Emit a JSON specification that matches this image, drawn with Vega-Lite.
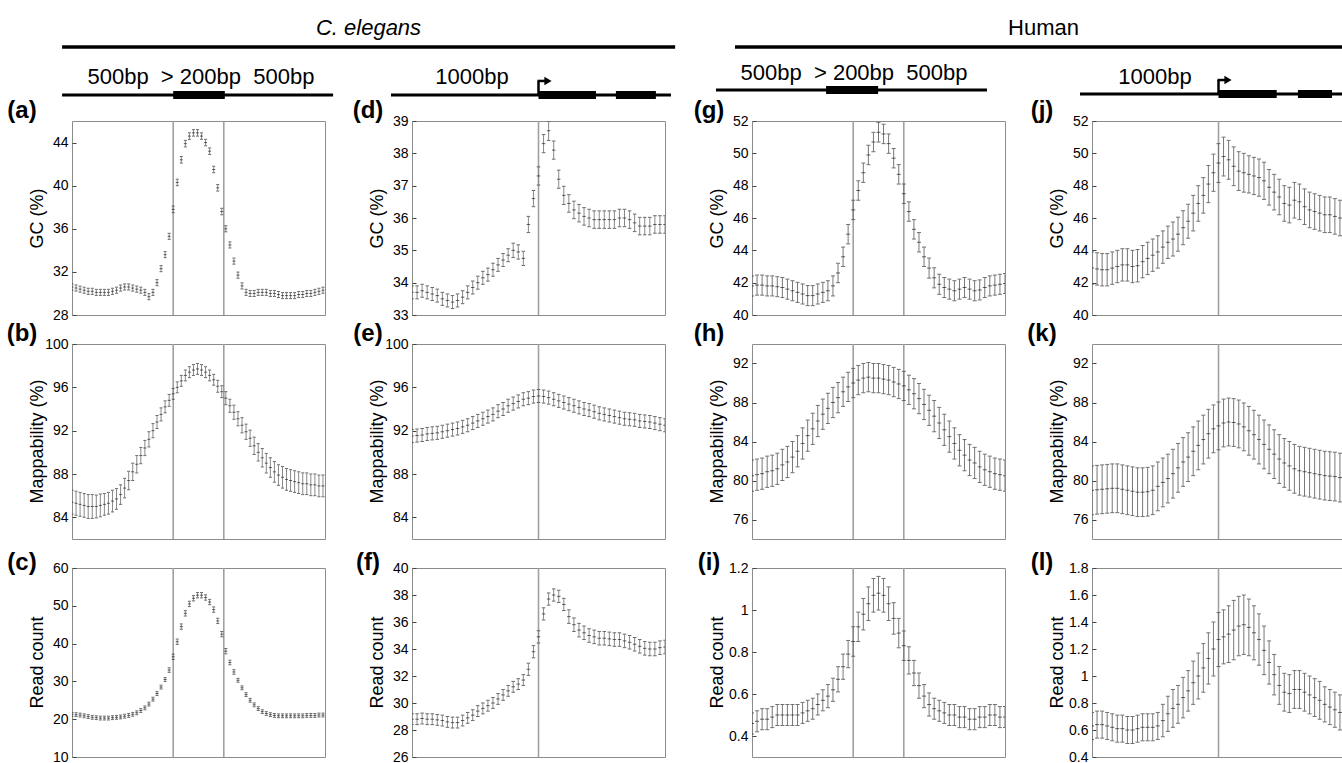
{
"$schema":"https://vega.github.io/schema/vega-lite/v6.json",
"background":"white",
"padding":{"left":6,"top":0,"right":0,"bottom":0},
"config":{
 "font":"Liberation Sans",
 "view":{"stroke":"#8c8c8c","strokeWidth":1},
 "axis":{"domain":false,"ticks":true,"tickSize":-4,"tickColor":"#444","grid":false,"labelFontSize":14,"labelColor":"#000","labelPadding":8,"titleFontSize":18,"titleFontWeight":"normal","titleColor":"#000","titleX":-35,"titleBaseline":"middle","titleAlign":"center","titleAngle":-90}
},
"datasets":{
"a":[{"x":-500,"m":30.6,"e":0.28},{"x":-480,"m":30.5,"e":0.28},{"x":-460,"m":30.4,"e":0.28},{"x":-440,"m":30.3,"e":0.28},{"x":-420,"m":30.2,"e":0.28},{"x":-400,"m":30.2,"e":0.28},{"x":-380,"m":30.1,"e":0.28},{"x":-360,"m":30.1,"e":0.28},{"x":-340,"m":30.1,"e":0.28},{"x":-320,"m":30.1,"e":0.28},{"x":-300,"m":30.2,"e":0.28},{"x":-280,"m":30.3,"e":0.28},{"x":-260,"m":30.5,"e":0.28},{"x":-240,"m":30.6,"e":0.28},{"x":-220,"m":30.6,"e":0.28},{"x":-200,"m":30.5,"e":0.28},{"x":-180,"m":30.4,"e":0.28},{"x":-160,"m":30.3,"e":0.28},{"x":-140,"m":30.1,"e":0.28},{"x":-120,"m":29.7,"e":0.28},{"x":-100,"m":30.1,"e":0.28},{"x":-80,"m":31.0,"e":0.28},{"x":-60,"m":32.3,"e":0.28},{"x":-40,"m":33.6,"e":0.28},{"x":-20,"m":35.3,"e":0.28},{"x":0,"m":37.8,"e":0.3},{"x":20,"m":40.3,"e":0.3},{"x":40,"m":42.4,"e":0.3},{"x":60,"m":43.9,"e":0.3},{"x":80,"m":44.6,"e":0.3},{"x":100,"m":44.9,"e":0.3},{"x":120,"m":44.9,"e":0.3},{"x":140,"m":44.6,"e":0.3},{"x":160,"m":44.0,"e":0.3},{"x":180,"m":43.2,"e":0.3},{"x":200,"m":41.5,"e":0.3},{"x":220,"m":39.8,"e":0.3},{"x":240,"m":37.6,"e":0.3},{"x":260,"m":36.0,"e":0.28},{"x":280,"m":34.5,"e":0.28},{"x":300,"m":33.0,"e":0.28},{"x":320,"m":31.7,"e":0.28},{"x":340,"m":30.7,"e":0.28},{"x":360,"m":30.1,"e":0.28},{"x":380,"m":30.0,"e":0.28},{"x":400,"m":30.0,"e":0.28},{"x":420,"m":30.1,"e":0.28},{"x":440,"m":30.1,"e":0.28},{"x":460,"m":30.1,"e":0.28},{"x":480,"m":30.0,"e":0.28},{"x":500,"m":30.0,"e":0.28},{"x":520,"m":29.9,"e":0.28},{"x":540,"m":29.8,"e":0.28},{"x":560,"m":29.8,"e":0.28},{"x":580,"m":29.8,"e":0.28},{"x":600,"m":29.8,"e":0.28},{"x":620,"m":29.9,"e":0.28},{"x":640,"m":29.9,"e":0.28},{"x":660,"m":30.0,"e":0.28},{"x":680,"m":30.0,"e":0.28},{"x":700,"m":30.1,"e":0.28},{"x":720,"m":30.2,"e":0.28},{"x":740,"m":30.3,"e":0.28}],
"b":[{"x":-500,"m":85.4,"e":1.1},{"x":-480,"m":85.3,"e":1.1},{"x":-460,"m":85.2,"e":1.1},{"x":-440,"m":85.1,"e":1.1},{"x":-420,"m":85.0,"e":1.1},{"x":-400,"m":85.0,"e":1.1},{"x":-380,"m":85.0,"e":1.05},{"x":-360,"m":85.1,"e":1.05},{"x":-340,"m":85.2,"e":1.0},{"x":-320,"m":85.3,"e":1.0},{"x":-300,"m":85.5,"e":1.0},{"x":-280,"m":85.7,"e":0.95},{"x":-260,"m":86.1,"e":0.9},{"x":-240,"m":86.7,"e":0.9},{"x":-220,"m":87.4,"e":0.85},{"x":-200,"m":88.2,"e":0.8},{"x":-180,"m":88.9,"e":0.8},{"x":-160,"m":89.7,"e":0.75},{"x":-140,"m":90.4,"e":0.7},{"x":-120,"m":91.2,"e":0.7},{"x":-100,"m":92.0,"e":0.65},{"x":-80,"m":92.8,"e":0.6},{"x":-60,"m":93.5,"e":0.6},{"x":-40,"m":94.2,"e":0.55},{"x":-20,"m":94.8,"e":0.55},{"x":0,"m":95.4,"e":0.5},{"x":20,"m":96.0,"e":0.5},{"x":40,"m":96.6,"e":0.5},{"x":60,"m":97.1,"e":0.5},{"x":80,"m":97.4,"e":0.5},{"x":100,"m":97.6,"e":0.5},{"x":120,"m":97.7,"e":0.5},{"x":140,"m":97.6,"e":0.5},{"x":160,"m":97.4,"e":0.5},{"x":180,"m":97.1,"e":0.5},{"x":200,"m":96.7,"e":0.5},{"x":220,"m":96.1,"e":0.55},{"x":240,"m":95.6,"e":0.55},{"x":260,"m":95.0,"e":0.6},{"x":280,"m":94.3,"e":0.6},{"x":300,"m":93.7,"e":0.65},{"x":320,"m":93.1,"e":0.65},{"x":340,"m":92.5,"e":0.7},{"x":360,"m":91.9,"e":0.7},{"x":380,"m":91.3,"e":0.75},{"x":400,"m":90.6,"e":0.8},{"x":420,"m":90.0,"e":0.8},{"x":440,"m":89.5,"e":0.85},{"x":460,"m":89.0,"e":0.9},{"x":480,"m":88.6,"e":0.9},{"x":500,"m":88.2,"e":0.95},{"x":520,"m":87.9,"e":0.95},{"x":540,"m":87.7,"e":1.0},{"x":560,"m":87.5,"e":1.0},{"x":580,"m":87.4,"e":1.0},{"x":600,"m":87.3,"e":1.0},{"x":620,"m":87.2,"e":1.0},{"x":640,"m":87.1,"e":1.0},{"x":660,"m":87.1,"e":1.0},{"x":680,"m":87.0,"e":1.0},{"x":700,"m":87.0,"e":1.0},{"x":720,"m":86.9,"e":1.0},{"x":740,"m":86.9,"e":1.0}],
"c":[{"x":-500,"m":21.3,"e":0.5},{"x":-480,"m":21.2,"e":0.5},{"x":-460,"m":21.1,"e":0.5},{"x":-440,"m":20.9,"e":0.5},{"x":-420,"m":20.7,"e":0.5},{"x":-400,"m":20.5,"e":0.5},{"x":-380,"m":20.4,"e":0.5},{"x":-360,"m":20.3,"e":0.5},{"x":-340,"m":20.3,"e":0.5},{"x":-320,"m":20.3,"e":0.5},{"x":-300,"m":20.4,"e":0.5},{"x":-280,"m":20.5,"e":0.5},{"x":-260,"m":20.6,"e":0.5},{"x":-240,"m":20.8,"e":0.5},{"x":-220,"m":21.0,"e":0.5},{"x":-200,"m":21.3,"e":0.5},{"x":-180,"m":21.7,"e":0.5},{"x":-160,"m":22.3,"e":0.5},{"x":-140,"m":23.0,"e":0.5},{"x":-120,"m":24.0,"e":0.5},{"x":-100,"m":25.3,"e":0.5},{"x":-80,"m":26.8,"e":0.5},{"x":-60,"m":28.5,"e":0.5},{"x":-40,"m":30.5,"e":0.5},{"x":-20,"m":33.0,"e":0.6},{"x":0,"m":36.5,"e":0.7},{"x":20,"m":40.5,"e":0.7},{"x":40,"m":44.5,"e":0.7},{"x":60,"m":48.0,"e":0.7},{"x":80,"m":50.5,"e":0.7},{"x":100,"m":52.0,"e":0.7},{"x":120,"m":52.8,"e":0.7},{"x":140,"m":52.8,"e":0.7},{"x":160,"m":52.2,"e":0.7},{"x":180,"m":51.0,"e":0.7},{"x":200,"m":49.0,"e":0.7},{"x":220,"m":46.0,"e":0.7},{"x":240,"m":42.5,"e":0.7},{"x":260,"m":38.0,"e":0.7},{"x":280,"m":35.0,"e":0.6},{"x":300,"m":32.5,"e":0.6},{"x":320,"m":30.3,"e":0.5},{"x":340,"m":28.3,"e":0.5},{"x":360,"m":26.5,"e":0.5},{"x":380,"m":25.0,"e":0.5},{"x":400,"m":23.8,"e":0.5},{"x":420,"m":22.8,"e":0.5},{"x":440,"m":22.0,"e":0.5},{"x":460,"m":21.5,"e":0.5},{"x":480,"m":21.2,"e":0.5},{"x":500,"m":21.0,"e":0.5},{"x":520,"m":20.9,"e":0.5},{"x":540,"m":20.9,"e":0.5},{"x":560,"m":20.9,"e":0.5},{"x":580,"m":20.9,"e":0.5},{"x":600,"m":20.9,"e":0.5},{"x":620,"m":20.9,"e":0.5},{"x":640,"m":20.9,"e":0.5},{"x":660,"m":21.0,"e":0.5},{"x":680,"m":21.0,"e":0.5},{"x":700,"m":21.0,"e":0.5},{"x":720,"m":21.1,"e":0.5},{"x":740,"m":21.1,"e":0.5}],
"d":[{"x":-1000,"m":33.7,"e":0.2},{"x":-960,"m":33.7,"e":0.2},{"x":-920,"m":33.75,"e":0.2},{"x":-880,"m":33.7,"e":0.2},{"x":-840,"m":33.65,"e":0.2},{"x":-800,"m":33.6,"e":0.2},{"x":-760,"m":33.5,"e":0.2},{"x":-720,"m":33.45,"e":0.2},{"x":-680,"m":33.4,"e":0.2},{"x":-640,"m":33.45,"e":0.2},{"x":-600,"m":33.55,"e":0.2},{"x":-560,"m":33.7,"e":0.2},{"x":-520,"m":33.85,"e":0.2},{"x":-480,"m":34.0,"e":0.2},{"x":-440,"m":34.15,"e":0.2},{"x":-400,"m":34.25,"e":0.2},{"x":-360,"m":34.4,"e":0.2},{"x":-320,"m":34.55,"e":0.2},{"x":-280,"m":34.7,"e":0.2},{"x":-240,"m":34.85,"e":0.2},{"x":-200,"m":35.0,"e":0.22},{"x":-160,"m":34.95,"e":0.22},{"x":-120,"m":34.75,"e":0.22},{"x":-80,"m":35.8,"e":0.25},{"x":-40,"m":36.6,"e":0.25},{"x":0,"m":37.3,"e":0.28},{"x":40,"m":38.3,"e":0.28},{"x":80,"m":38.7,"e":0.3},{"x":120,"m":38.1,"e":0.28},{"x":160,"m":37.2,"e":0.28},{"x":200,"m":36.7,"e":0.28},{"x":240,"m":36.45,"e":0.27},{"x":280,"m":36.25,"e":0.27},{"x":320,"m":36.15,"e":0.27},{"x":360,"m":36.05,"e":0.27},{"x":400,"m":36.0,"e":0.27},{"x":440,"m":35.95,"e":0.27},{"x":480,"m":35.95,"e":0.27},{"x":520,"m":35.95,"e":0.27},{"x":560,"m":35.95,"e":0.27},{"x":600,"m":35.95,"e":0.27},{"x":640,"m":36.0,"e":0.27},{"x":680,"m":36.0,"e":0.27},{"x":720,"m":35.95,"e":0.27},{"x":760,"m":35.85,"e":0.27},{"x":800,"m":35.75,"e":0.27},{"x":840,"m":35.75,"e":0.27},{"x":880,"m":35.75,"e":0.27},{"x":920,"m":35.8,"e":0.27},{"x":960,"m":35.8,"e":0.27},{"x":1000,"m":35.8,"e":0.27}],
"e":[{"x":-1000,"m":91.5,"e":0.6},{"x":-960,"m":91.55,"e":0.6},{"x":-920,"m":91.6,"e":0.6},{"x":-880,"m":91.7,"e":0.6},{"x":-840,"m":91.75,"e":0.6},{"x":-800,"m":91.8,"e":0.6},{"x":-760,"m":91.9,"e":0.6},{"x":-720,"m":92.0,"e":0.6},{"x":-680,"m":92.1,"e":0.6},{"x":-640,"m":92.2,"e":0.6},{"x":-600,"m":92.35,"e":0.6},{"x":-560,"m":92.5,"e":0.6},{"x":-520,"m":92.7,"e":0.6},{"x":-480,"m":92.9,"e":0.6},{"x":-440,"m":93.1,"e":0.6},{"x":-400,"m":93.3,"e":0.6},{"x":-360,"m":93.5,"e":0.6},{"x":-320,"m":93.8,"e":0.6},{"x":-280,"m":94.0,"e":0.6},{"x":-240,"m":94.3,"e":0.6},{"x":-200,"m":94.5,"e":0.6},{"x":-160,"m":94.7,"e":0.6},{"x":-120,"m":94.9,"e":0.6},{"x":-80,"m":95.0,"e":0.6},{"x":-40,"m":95.15,"e":0.6},{"x":0,"m":95.2,"e":0.6},{"x":40,"m":95.15,"e":0.6},{"x":80,"m":95.05,"e":0.6},{"x":120,"m":94.9,"e":0.6},{"x":160,"m":94.75,"e":0.6},{"x":200,"m":94.6,"e":0.6},{"x":240,"m":94.45,"e":0.6},{"x":280,"m":94.3,"e":0.6},{"x":320,"m":94.15,"e":0.6},{"x":360,"m":94.0,"e":0.6},{"x":400,"m":93.9,"e":0.6},{"x":440,"m":93.75,"e":0.6},{"x":480,"m":93.6,"e":0.6},{"x":520,"m":93.5,"e":0.6},{"x":560,"m":93.4,"e":0.6},{"x":600,"m":93.3,"e":0.6},{"x":640,"m":93.2,"e":0.6},{"x":680,"m":93.1,"e":0.6},{"x":720,"m":93.05,"e":0.6},{"x":760,"m":93.0,"e":0.6},{"x":800,"m":92.9,"e":0.6},{"x":840,"m":92.85,"e":0.6},{"x":880,"m":92.8,"e":0.6},{"x":920,"m":92.7,"e":0.6},{"x":960,"m":92.6,"e":0.6},{"x":1000,"m":92.5,"e":0.6}],
"f":[{"x":-1000,"m":28.8,"e":0.4},{"x":-960,"m":28.8,"e":0.4},{"x":-920,"m":28.85,"e":0.4},{"x":-880,"m":28.8,"e":0.4},{"x":-840,"m":28.8,"e":0.4},{"x":-800,"m":28.75,"e":0.4},{"x":-760,"m":28.7,"e":0.4},{"x":-720,"m":28.6,"e":0.4},{"x":-680,"m":28.55,"e":0.4},{"x":-640,"m":28.55,"e":0.4},{"x":-600,"m":28.7,"e":0.4},{"x":-560,"m":28.9,"e":0.4},{"x":-520,"m":29.1,"e":0.4},{"x":-480,"m":29.4,"e":0.4},{"x":-440,"m":29.6,"e":0.4},{"x":-400,"m":29.8,"e":0.4},{"x":-360,"m":30.0,"e":0.4},{"x":-320,"m":30.3,"e":0.4},{"x":-280,"m":30.6,"e":0.4},{"x":-240,"m":30.9,"e":0.4},{"x":-200,"m":31.2,"e":0.4},{"x":-160,"m":31.4,"e":0.4},{"x":-120,"m":31.7,"e":0.4},{"x":-80,"m":32.5,"e":0.45},{"x":-40,"m":33.8,"e":0.45},{"x":0,"m":34.9,"e":0.45},{"x":40,"m":36.6,"e":0.45},{"x":80,"m":37.7,"e":0.45},{"x":120,"m":38.0,"e":0.45},{"x":160,"m":37.9,"e":0.45},{"x":200,"m":37.3,"e":0.45},{"x":240,"m":36.4,"e":0.5},{"x":280,"m":35.8,"e":0.5},{"x":320,"m":35.4,"e":0.5},{"x":360,"m":35.2,"e":0.5},{"x":400,"m":35.0,"e":0.5},{"x":440,"m":34.9,"e":0.5},{"x":480,"m":34.8,"e":0.5},{"x":520,"m":34.8,"e":0.5},{"x":560,"m":34.75,"e":0.5},{"x":600,"m":34.7,"e":0.5},{"x":640,"m":34.7,"e":0.5},{"x":680,"m":34.6,"e":0.5},{"x":720,"m":34.5,"e":0.5},{"x":760,"m":34.35,"e":0.5},{"x":800,"m":34.2,"e":0.5},{"x":840,"m":34.05,"e":0.5},{"x":880,"m":34.0,"e":0.5},{"x":920,"m":34.0,"e":0.5},{"x":960,"m":34.1,"e":0.5},{"x":1000,"m":34.15,"e":0.5}],
"g":[{"x":-500,"m":41.8,"e":0.62},{"x":-475,"m":41.85,"e":0.62},{"x":-450,"m":41.85,"e":0.62},{"x":-425,"m":41.8,"e":0.62},{"x":-400,"m":41.8,"e":0.62},{"x":-375,"m":41.75,"e":0.62},{"x":-350,"m":41.7,"e":0.62},{"x":-325,"m":41.6,"e":0.62},{"x":-300,"m":41.5,"e":0.62},{"x":-275,"m":41.4,"e":0.62},{"x":-250,"m":41.3,"e":0.62},{"x":-225,"m":41.2,"e":0.62},{"x":-200,"m":41.2,"e":0.62},{"x":-175,"m":41.3,"e":0.62},{"x":-150,"m":41.4,"e":0.62},{"x":-125,"m":41.5,"e":0.62},{"x":-100,"m":41.8,"e":0.62},{"x":-75,"m":42.6,"e":0.6},{"x":-50,"m":43.6,"e":0.6},{"x":-25,"m":45.0,"e":0.6},{"x":0,"m":46.5,"e":0.6},{"x":25,"m":47.7,"e":0.6},{"x":50,"m":48.8,"e":0.6},{"x":75,"m":49.9,"e":0.6},{"x":100,"m":50.7,"e":0.6},{"x":125,"m":51.3,"e":0.6},{"x":150,"m":51.2,"e":0.6},{"x":175,"m":50.6,"e":0.6},{"x":200,"m":49.7,"e":0.6},{"x":225,"m":48.7,"e":0.6},{"x":250,"m":47.5,"e":0.6},{"x":275,"m":46.4,"e":0.6},{"x":300,"m":45.3,"e":0.6},{"x":325,"m":44.5,"e":0.6},{"x":350,"m":43.6,"e":0.6},{"x":375,"m":42.9,"e":0.62},{"x":400,"m":42.3,"e":0.62},{"x":425,"m":41.9,"e":0.62},{"x":450,"m":41.7,"e":0.62},{"x":475,"m":41.6,"e":0.62},{"x":500,"m":41.5,"e":0.62},{"x":525,"m":41.6,"e":0.62},{"x":550,"m":41.7,"e":0.62},{"x":575,"m":41.6,"e":0.62},{"x":600,"m":41.5,"e":0.62},{"x":625,"m":41.55,"e":0.62},{"x":650,"m":41.7,"e":0.62},{"x":675,"m":41.8,"e":0.62},{"x":700,"m":41.85,"e":0.62},{"x":725,"m":41.9,"e":0.62},{"x":750,"m":41.95,"e":0.62}],
"h":[{"x":-500,"m":80.5,"e":1.6},{"x":-475,"m":80.6,"e":1.6},{"x":-450,"m":80.7,"e":1.6},{"x":-425,"m":80.9,"e":1.6},{"x":-400,"m":81.0,"e":1.6},{"x":-375,"m":81.2,"e":1.6},{"x":-350,"m":81.6,"e":1.6},{"x":-325,"m":81.9,"e":1.6},{"x":-300,"m":82.4,"e":1.6},{"x":-275,"m":83.0,"e":1.6},{"x":-250,"m":83.8,"e":1.6},{"x":-225,"m":84.6,"e":1.6},{"x":-200,"m":85.3,"e":1.6},{"x":-175,"m":86.1,"e":1.6},{"x":-150,"m":86.8,"e":1.55},{"x":-125,"m":87.4,"e":1.55},{"x":-100,"m":88.0,"e":1.55},{"x":-75,"m":88.5,"e":1.55},{"x":-50,"m":89.1,"e":1.5},{"x":-25,"m":89.6,"e":1.5},{"x":0,"m":90.0,"e":1.5},{"x":25,"m":90.3,"e":1.5},{"x":50,"m":90.5,"e":1.5},{"x":75,"m":90.6,"e":1.5},{"x":100,"m":90.5,"e":1.5},{"x":125,"m":90.5,"e":1.5},{"x":150,"m":90.4,"e":1.5},{"x":175,"m":90.3,"e":1.5},{"x":200,"m":90.1,"e":1.5},{"x":225,"m":89.9,"e":1.5},{"x":250,"m":89.7,"e":1.5},{"x":275,"m":89.3,"e":1.5},{"x":300,"m":88.9,"e":1.55},{"x":325,"m":88.4,"e":1.55},{"x":350,"m":87.8,"e":1.55},{"x":375,"m":87.2,"e":1.55},{"x":400,"m":86.6,"e":1.6},{"x":425,"m":85.9,"e":1.6},{"x":450,"m":85.2,"e":1.6},{"x":475,"m":84.5,"e":1.6},{"x":500,"m":83.8,"e":1.6},{"x":525,"m":83.1,"e":1.6},{"x":550,"m":82.6,"e":1.6},{"x":575,"m":82.1,"e":1.6},{"x":600,"m":81.8,"e":1.6},{"x":625,"m":81.4,"e":1.6},{"x":650,"m":81.1,"e":1.6},{"x":675,"m":80.9,"e":1.6},{"x":700,"m":80.7,"e":1.6},{"x":725,"m":80.6,"e":1.6},{"x":750,"m":80.5,"e":1.6}],
"i":[{"x":-500,"m":0.46,"e":0.05},{"x":-475,"m":0.47,"e":0.05},{"x":-450,"m":0.48,"e":0.05},{"x":-425,"m":0.48,"e":0.05},{"x":-400,"m":0.49,"e":0.05},{"x":-375,"m":0.5,"e":0.05},{"x":-350,"m":0.5,"e":0.05},{"x":-325,"m":0.5,"e":0.05},{"x":-300,"m":0.5,"e":0.05},{"x":-275,"m":0.5,"e":0.05},{"x":-250,"m":0.51,"e":0.05},{"x":-225,"m":0.52,"e":0.05},{"x":-200,"m":0.53,"e":0.05},{"x":-175,"m":0.55,"e":0.05},{"x":-150,"m":0.57,"e":0.05},{"x":-125,"m":0.59,"e":0.055},{"x":-100,"m":0.62,"e":0.055},{"x":-75,"m":0.67,"e":0.06},{"x":-50,"m":0.73,"e":0.06},{"x":-25,"m":0.79,"e":0.065},{"x":0,"m":0.85,"e":0.07},{"x":25,"m":0.92,"e":0.07},{"x":50,"m":0.98,"e":0.075},{"x":75,"m":1.03,"e":0.08},{"x":100,"m":1.07,"e":0.08},{"x":125,"m":1.08,"e":0.08},{"x":150,"m":1.07,"e":0.08},{"x":175,"m":1.03,"e":0.08},{"x":200,"m":0.96,"e":0.075},{"x":225,"m":0.89,"e":0.07},{"x":250,"m":0.83,"e":0.07},{"x":275,"m":0.76,"e":0.065},{"x":300,"m":0.7,"e":0.06},{"x":325,"m":0.64,"e":0.06},{"x":350,"m":0.59,"e":0.055},{"x":375,"m":0.55,"e":0.055},{"x":400,"m":0.53,"e":0.05},{"x":425,"m":0.52,"e":0.05},{"x":450,"m":0.51,"e":0.05},{"x":475,"m":0.5,"e":0.05},{"x":500,"m":0.5,"e":0.05},{"x":525,"m":0.49,"e":0.05},{"x":550,"m":0.49,"e":0.05},{"x":575,"m":0.48,"e":0.05},{"x":600,"m":0.48,"e":0.05},{"x":625,"m":0.49,"e":0.05},{"x":650,"m":0.49,"e":0.05},{"x":675,"m":0.5,"e":0.05},{"x":700,"m":0.5,"e":0.05},{"x":725,"m":0.49,"e":0.05},{"x":750,"m":0.49,"e":0.05}],
"j":[{"x":-1000,"m":42.9,"e":1.0},{"x":-960,"m":42.85,"e":1.0},{"x":-920,"m":42.8,"e":1.0},{"x":-880,"m":42.8,"e":1.0},{"x":-840,"m":42.9,"e":1.0},{"x":-800,"m":43.0,"e":1.0},{"x":-760,"m":43.1,"e":1.0},{"x":-720,"m":43.1,"e":1.0},{"x":-680,"m":43.0,"e":1.0},{"x":-640,"m":43.05,"e":1.0},{"x":-600,"m":43.3,"e":1.0},{"x":-560,"m":43.5,"e":1.0},{"x":-520,"m":43.7,"e":1.0},{"x":-480,"m":43.9,"e":1.0},{"x":-440,"m":44.2,"e":1.0},{"x":-400,"m":44.5,"e":1.0},{"x":-360,"m":44.7,"e":1.05},{"x":-320,"m":45.0,"e":1.05},{"x":-280,"m":45.4,"e":1.05},{"x":-240,"m":45.8,"e":1.05},{"x":-200,"m":46.3,"e":1.1},{"x":-160,"m":46.9,"e":1.1},{"x":-120,"m":47.4,"e":1.1},{"x":-80,"m":48.1,"e":1.15},{"x":-40,"m":48.8,"e":1.15},{"x":0,"m":49.4,"e":1.2},{"x":40,"m":49.8,"e":1.2},{"x":80,"m":49.6,"e":1.2},{"x":120,"m":49.2,"e":1.2},{"x":160,"m":48.9,"e":1.2},{"x":200,"m":48.8,"e":1.2},{"x":240,"m":48.7,"e":1.15},{"x":280,"m":48.6,"e":1.15},{"x":320,"m":48.5,"e":1.15},{"x":360,"m":48.3,"e":1.15},{"x":400,"m":47.9,"e":1.1},{"x":440,"m":47.6,"e":1.1},{"x":480,"m":47.3,"e":1.1},{"x":520,"m":46.9,"e":1.1},{"x":560,"m":46.8,"e":1.1},{"x":600,"m":47.1,"e":1.1},{"x":640,"m":47.0,"e":1.1},{"x":680,"m":46.7,"e":1.1},{"x":720,"m":46.5,"e":1.1},{"x":760,"m":46.4,"e":1.1},{"x":800,"m":46.3,"e":1.1},{"x":840,"m":46.2,"e":1.1},{"x":880,"m":46.2,"e":1.1},{"x":920,"m":46.1,"e":1.1},{"x":960,"m":46.0,"e":1.1},{"x":1000,"m":45.9,"e":1.1}],
"k":[{"x":-1000,"m":79.0,"e":2.5},{"x":-960,"m":79.05,"e":2.5},{"x":-920,"m":79.1,"e":2.5},{"x":-880,"m":79.15,"e":2.5},{"x":-840,"m":79.2,"e":2.5},{"x":-800,"m":79.2,"e":2.5},{"x":-760,"m":79.1,"e":2.5},{"x":-720,"m":79.0,"e":2.5},{"x":-680,"m":78.9,"e":2.5},{"x":-640,"m":78.8,"e":2.5},{"x":-600,"m":78.8,"e":2.5},{"x":-560,"m":78.85,"e":2.5},{"x":-520,"m":79.0,"e":2.5},{"x":-480,"m":79.4,"e":2.5},{"x":-440,"m":79.8,"e":2.5},{"x":-400,"m":80.2,"e":2.5},{"x":-360,"m":80.7,"e":2.5},{"x":-320,"m":81.3,"e":2.5},{"x":-280,"m":81.9,"e":2.5},{"x":-240,"m":82.4,"e":2.5},{"x":-200,"m":83.0,"e":2.5},{"x":-160,"m":83.6,"e":2.5},{"x":-120,"m":84.2,"e":2.5},{"x":-80,"m":84.8,"e":2.5},{"x":-40,"m":85.3,"e":2.45},{"x":0,"m":85.6,"e":2.45},{"x":40,"m":85.9,"e":2.45},{"x":80,"m":86.0,"e":2.45},{"x":120,"m":85.95,"e":2.45},{"x":160,"m":85.8,"e":2.45},{"x":200,"m":85.5,"e":2.45},{"x":240,"m":85.1,"e":2.5},{"x":280,"m":84.7,"e":2.5},{"x":320,"m":84.2,"e":2.5},{"x":360,"m":83.7,"e":2.5},{"x":400,"m":83.2,"e":2.5},{"x":440,"m":82.7,"e":2.5},{"x":480,"m":82.2,"e":2.5},{"x":520,"m":81.8,"e":2.5},{"x":560,"m":81.5,"e":2.5},{"x":600,"m":81.2,"e":2.5},{"x":640,"m":81.0,"e":2.5},{"x":680,"m":80.9,"e":2.5},{"x":720,"m":80.8,"e":2.5},{"x":760,"m":80.7,"e":2.5},{"x":800,"m":80.6,"e":2.5},{"x":840,"m":80.5,"e":2.5},{"x":880,"m":80.45,"e":2.5},{"x":920,"m":80.4,"e":2.5},{"x":960,"m":80.3,"e":2.5},{"x":1000,"m":80.2,"e":2.5}],
"l":[{"x":-1000,"m":0.63,"e":0.1},{"x":-960,"m":0.64,"e":0.1},{"x":-920,"m":0.64,"e":0.1},{"x":-880,"m":0.63,"e":0.1},{"x":-840,"m":0.62,"e":0.1},{"x":-800,"m":0.61,"e":0.1},{"x":-760,"m":0.61,"e":0.1},{"x":-720,"m":0.6,"e":0.1},{"x":-680,"m":0.6,"e":0.1},{"x":-640,"m":0.61,"e":0.1},{"x":-600,"m":0.62,"e":0.1},{"x":-560,"m":0.62,"e":0.1},{"x":-520,"m":0.62,"e":0.1},{"x":-480,"m":0.63,"e":0.1},{"x":-440,"m":0.67,"e":0.12},{"x":-400,"m":0.72,"e":0.13},{"x":-360,"m":0.76,"e":0.14},{"x":-320,"m":0.79,"e":0.14},{"x":-280,"m":0.84,"e":0.15},{"x":-240,"m":0.89,"e":0.15},{"x":-200,"m":0.95,"e":0.16},{"x":-160,"m":1.0,"e":0.17},{"x":-120,"m":1.06,"e":0.18},{"x":-80,"m":1.13,"e":0.19},{"x":-40,"m":1.2,"e":0.2},{"x":0,"m":1.27,"e":0.2},{"x":40,"m":1.29,"e":0.2},{"x":80,"m":1.31,"e":0.21},{"x":120,"m":1.34,"e":0.22},{"x":160,"m":1.37,"e":0.22},{"x":200,"m":1.38,"e":0.22},{"x":240,"m":1.36,"e":0.21},{"x":280,"m":1.32,"e":0.2},{"x":320,"m":1.27,"e":0.19},{"x":360,"m":1.19,"e":0.18},{"x":400,"m":1.1,"e":0.16},{"x":440,"m":1.01,"e":0.15},{"x":480,"m":0.93,"e":0.14},{"x":520,"m":0.88,"e":0.14},{"x":560,"m":0.87,"e":0.14},{"x":600,"m":0.9,"e":0.14},{"x":640,"m":0.9,"e":0.14},{"x":680,"m":0.88,"e":0.14},{"x":720,"m":0.86,"e":0.14},{"x":760,"m":0.84,"e":0.14},{"x":800,"m":0.82,"e":0.14},{"x":840,"m":0.79,"e":0.13},{"x":880,"m":0.77,"e":0.13},{"x":920,"m":0.75,"e":0.13},{"x":960,"m":0.73,"e":0.13},{"x":1000,"m":0.71,"e":0.13}],
"d1":[{"s":-549,"t":790,"k":"flank"},{"s":0,"t":255,"k":"exon"}],
"d2":[{"s":-1166,"t":1047,"k":"flank"},{"s":0,"t":454,"k":"exon"},{"s":612,"t":928,"k":"exon"}],
"d3":[{"s":-678,"t":661,"k":"flank"},{"s":-134,"t":123,"k":"exon"}],
"d4":[{"s":-1095,"t":1100,"k":"flank"},{"s":0,"t":460,"k":"exon"},{"s":628,"t":897,"k":"exon"}]
},
"columns":4,
"spacing":{"row":29,"column":87},
"bounds":"flush",
"concat":[
 {"width":253,"height":92,"view":{"stroke":null},"layer":[
  {"data":{"values":[{}]},"mark":{"type":"rule","color":"black","strokeWidth":3.5},"encoding":{"x":{"datum":-549,"scale":{"domain":[-500,750],"nice":false,"zero":false},"axis":null},"x2":{"datum":2480},"y":{"datum":0.489,"scale":{"domain":[0,1],"nice":false},"axis":null}}},
  {"data":{"values":[{}]},"mark":{"type":"text","text":"C. elegans","fontSize":22,"fontStyle":"italic","align":"center","baseline":"middle"},"encoding":{"x":{"datum":965,"scale":{"domain":[-500,750],"nice":false,"zero":false},"axis":null},"y":{"datum":0.696,"scale":{"domain":[0,1],"nice":false},"axis":null}}},
  {"data":{"name":"d1"},"mark":{"type":"rule","color":"black","strokeCap":"butt"},"encoding":{"x":{"field":"s","type":"quantitative","scale":{"domain":[-500,750],"nice":false,"zero":false},"axis":null},"x2":{"field":"t"},"y":{"datum":-0.033,"scale":{"domain":[0,1],"nice":false},"axis":null},"strokeWidth":{"field":"k","type":"nominal","scale":{"domain":["flank","exon"],"range":[3,8]},"legend":null}}},
  {"data":{"values":[{}]},"mark":{"type":"text","text":"500bp\u00a0\u00a0>\u00a0200bp\u00a0\u00a0500bp","fontSize":22,"align":"center","baseline":"middle"},"encoding":{"x":{"datum":137,"scale":{"domain":[-500,750],"nice":false,"zero":false},"axis":null},"y":{"datum":0.163,"scale":{"domain":[0,1],"nice":false},"axis":null}}}
 ]},
 {"width":253,"height":92,"view":{"stroke":null},"layer":[
  {"data":{"name":"d2"},"mark":{"type":"rule","color":"black","strokeCap":"butt"},"encoding":{"x":{"field":"s","type":"quantitative","scale":{"domain":[-1000,1000],"nice":false,"zero":false},"axis":null},"x2":{"field":"t"},"y":{"datum":-0.033,"scale":{"domain":[0,1],"nice":false},"axis":null},"strokeWidth":{"field":"k","type":"nominal","scale":{"domain":["flank","exon"],"range":[3,8]},"legend":null}}},
  {"data":{"values":[{}]},"mark":{"type":"rule","color":"black","strokeWidth":2.5,"strokeCap":"butt"},"encoding":{"x":{"datum":0,"scale":{"domain":[-1000,1000],"nice":false,"zero":false},"axis":null},"y":{"datum":-0.033,"scale":{"domain":[0,1],"nice":false},"axis":null},"y2":{"datum":0.12}}},
  {"data":{"values":[{}]},"mark":{"type":"rule","color":"black","strokeWidth":2.5,"strokeCap":"butt"},"encoding":{"x":{"datum":-8,"scale":{"domain":[-1000,1000],"nice":false,"zero":false},"axis":null},"x2":{"datum":60},"y":{"datum":0.12,"scale":{"domain":[0,1],"nice":false},"axis":null}}},
  {"data":{"values":[{}]},"mark":{"type":"point","shape":"triangle-right","filled":true,"size":70,"color":"black","opacity":1},"encoding":{"x":{"datum":75,"scale":{"domain":[-1000,1000],"nice":false,"zero":false},"axis":null},"y":{"datum":0.12,"scale":{"domain":[0,1],"nice":false},"axis":null}}},
  {"data":{"values":[{}]},"mark":{"type":"text","text":"1000bp","fontSize":22,"align":"center","baseline":"middle"},"encoding":{"x":{"datum":-526,"scale":{"domain":[-1000,1000],"nice":false,"zero":false},"axis":null},"y":{"datum":0.163,"scale":{"domain":[0,1],"nice":false},"axis":null}}}
 ]},
 {"width":253,"height":92,"view":{"stroke":null},"layer":[
  {"data":{"values":[{}]},"mark":{"type":"rule","color":"black","strokeWidth":3.5},"encoding":{"x":{"datum":-584,"scale":{"domain":[-500,750],"nice":false,"zero":false},"axis":null},"x2":{"datum":3000},"y":{"datum":0.489,"scale":{"domain":[0,1],"nice":false},"axis":null}}},
  {"data":{"values":[{}]},"mark":{"type":"text","text":"Human","fontSize":22,"align":"center","baseline":"middle"},"encoding":{"x":{"datum":940,"scale":{"domain":[-500,750],"nice":false,"zero":false},"axis":null},"y":{"datum":0.696,"scale":{"domain":[0,1],"nice":false},"axis":null}}},
  {"data":{"name":"d3"},"mark":{"type":"rule","color":"black","strokeCap":"butt"},"encoding":{"x":{"field":"s","type":"quantitative","scale":{"domain":[-500,750],"nice":false,"zero":false},"axis":null},"x2":{"field":"t"},"y":{"datum":0.022,"scale":{"domain":[0,1],"nice":false},"axis":null},"strokeWidth":{"field":"k","type":"nominal","scale":{"domain":["flank","exon"],"range":[3,8]},"legend":null}}},
  {"data":{"values":[{}]},"mark":{"type":"text","text":"500bp\u00a0\u00a0>\u00a0200bp\u00a0\u00a0500bp","fontSize":22,"align":"center","baseline":"middle"},"encoding":{"x":{"datum":4,"scale":{"domain":[-500,750],"nice":false,"zero":false},"axis":null},"y":{"datum":0.207,"scale":{"domain":[0,1],"nice":false},"axis":null}}}
 ]},
 {"width":253,"height":92,"view":{"stroke":null},"layer":[
  {"data":{"name":"d4"},"mark":{"type":"rule","color":"black","strokeCap":"butt"},"encoding":{"x":{"field":"s","type":"quantitative","scale":{"domain":[-1000,1000],"nice":false,"zero":false},"axis":null},"x2":{"field":"t"},"y":{"datum":-0.022,"scale":{"domain":[0,1],"nice":false},"axis":null},"strokeWidth":{"field":"k","type":"nominal","scale":{"domain":["flank","exon"],"range":[3,8]},"legend":null}}},
  {"data":{"values":[{}]},"mark":{"type":"rule","color":"black","strokeWidth":2.5,"strokeCap":"butt"},"encoding":{"x":{"datum":0,"scale":{"domain":[-1000,1000],"nice":false,"zero":false},"axis":null},"y":{"datum":-0.022,"scale":{"domain":[0,1],"nice":false},"axis":null},"y2":{"datum":0.13}}},
  {"data":{"values":[{}]},"mark":{"type":"rule","color":"black","strokeWidth":2.5,"strokeCap":"butt"},"encoding":{"x":{"datum":-8,"scale":{"domain":[-1000,1000],"nice":false,"zero":false},"axis":null},"x2":{"datum":60},"y":{"datum":0.13,"scale":{"domain":[0,1],"nice":false},"axis":null}}},
  {"data":{"values":[{}]},"mark":{"type":"point","shape":"triangle-right","filled":true,"size":70,"color":"black","opacity":1},"encoding":{"x":{"datum":75,"scale":{"domain":[-1000,1000],"nice":false,"zero":false},"axis":null},"y":{"datum":0.13,"scale":{"domain":[0,1],"nice":false},"axis":null}}},
  {"data":{"values":[{}]},"mark":{"type":"text","text":"1000bp","fontSize":22,"align":"center","baseline":"middle"},"encoding":{"x":{"datum":-502,"scale":{"domain":[-1000,1000],"nice":false,"zero":false},"axis":null},"y":{"datum":0.163,"scale":{"domain":[0,1],"nice":false},"axis":null}}}
 ]},
 {"width":253,"height":194,"layer":[
  {"data":{"values":[{}]},"mark":{"type":"rule","color":"#a0a0a0","strokeWidth":1.6},"encoding":{"x":{"datum":0,"scale":{"domain":[-500,750],"nice":false,"zero":false},"axis":null}}},
  {"data":{"values":[{}]},"mark":{"type":"rule","color":"#a0a0a0","strokeWidth":1.6},"encoding":{"x":{"datum":250,"scale":{"domain":[-500,750],"nice":false,"zero":false},"axis":null}}},
  {"data":{"name":"a"},"mark":{"type":"errorbar","ticks":{"size":3,"color":"#222","clip":true},"rule":{"color":"#888","clip":true}},"encoding":{"x":{"field":"x","type":"quantitative","scale":{"domain":[-500,750],"nice":false,"zero":false},"axis":null},"y":{"field":"m","type":"quantitative","scale":{"domain":[28,46],"nice":false,"zero":false},"axis":{"title":"GC (%)","titleY":97,"values":[28,32,36,40,44]}},"yError":{"field":"e"}}},
  {"data":{"name":"a"},"mark":{"type":"tick","orient":"horizontal","size":3,"thickness":1,"color":"#222","clip":true},"encoding":{"x":{"field":"x","type":"quantitative","scale":{"domain":[-500,750],"nice":false,"zero":false},"axis":null},"y":{"field":"m","type":"quantitative","scale":{"domain":[28,46],"nice":false,"zero":false},"axis":{"title":"GC (%)","titleY":97,"values":[28,32,36,40,44]}}}},
  {"data":{"values":[{}]},"mark":{"type":"text","text":"(a)","fontSize":24,"fontWeight":"bold","align":"center","baseline":"middle","dx":-50,"dy":-10},"encoding":{"x":{"datum":-500,"scale":{"domain":[-500,750],"nice":false,"zero":false},"axis":null},"y":{"datum":46,"scale":{"domain":[28,46],"nice":false,"zero":false},"axis":{"title":"GC (%)","titleY":97,"values":[28,32,36,40,44]}}}}
 ]},
 {"width":253,"height":194,"layer":[
  {"data":{"values":[{}]},"mark":{"type":"rule","color":"#a0a0a0","strokeWidth":1.6},"encoding":{"x":{"datum":0,"scale":{"domain":[-1000,1000],"nice":false,"zero":false},"axis":null}}},
  {"data":{"name":"d"},"mark":{"type":"errorbar","ticks":{"size":3.5,"color":"#222","clip":true},"rule":{"color":"#888","clip":true}},"encoding":{"x":{"field":"x","type":"quantitative","scale":{"domain":[-1000,1000],"nice":false,"zero":false},"axis":null},"y":{"field":"m","type":"quantitative","scale":{"domain":[33,39],"nice":false,"zero":false},"axis":{"title":"GC (%)","titleY":97,"values":[33,34,35,36,37,38,39]}},"yError":{"field":"e"}}},
  {"data":{"name":"d"},"mark":{"type":"tick","orient":"horizontal","size":3.5,"thickness":1,"color":"#222","clip":true},"encoding":{"x":{"field":"x","type":"quantitative","scale":{"domain":[-1000,1000],"nice":false,"zero":false},"axis":null},"y":{"field":"m","type":"quantitative","scale":{"domain":[33,39],"nice":false,"zero":false},"axis":{"title":"GC (%)","titleY":97,"values":[33,34,35,36,37,38,39]}}}},
  {"data":{"values":[{}]},"mark":{"type":"text","text":"(d)","fontSize":24,"fontWeight":"bold","align":"center","baseline":"middle","dx":-44,"dy":-10},"encoding":{"x":{"datum":-1000,"scale":{"domain":[-1000,1000],"nice":false,"zero":false},"axis":null},"y":{"datum":39,"scale":{"domain":[33,39],"nice":false,"zero":false},"axis":{"title":"GC (%)","titleY":97,"values":[33,34,35,36,37,38,39]}}}}
 ]},
 {"width":253,"height":194,"layer":[
  {"data":{"values":[{}]},"mark":{"type":"rule","color":"#a0a0a0","strokeWidth":1.6},"encoding":{"x":{"datum":0,"scale":{"domain":[-500,750],"nice":false,"zero":false},"axis":null}}},
  {"data":{"values":[{}]},"mark":{"type":"rule","color":"#a0a0a0","strokeWidth":1.6},"encoding":{"x":{"datum":250,"scale":{"domain":[-500,750],"nice":false,"zero":false},"axis":null}}},
  {"data":{"name":"g"},"mark":{"type":"errorbar","ticks":{"size":4,"color":"#333","clip":true},"rule":{"color":"#777","clip":true}},"encoding":{"x":{"field":"x","type":"quantitative","scale":{"domain":[-500,750],"nice":false,"zero":false},"axis":null},"y":{"field":"m","type":"quantitative","scale":{"domain":[40,52],"nice":false,"zero":false},"axis":{"title":"GC (%)","titleY":97,"values":[40,42,44,46,48,50,52]}},"yError":{"field":"e"}}},
  {"data":{"name":"g"},"mark":{"type":"tick","orient":"horizontal","size":4,"thickness":1,"color":"#222","clip":true},"encoding":{"x":{"field":"x","type":"quantitative","scale":{"domain":[-500,750],"nice":false,"zero":false},"axis":null},"y":{"field":"m","type":"quantitative","scale":{"domain":[40,52],"nice":false,"zero":false},"axis":{"title":"GC (%)","titleY":97,"values":[40,42,44,46,48,50,52]}}}},
  {"data":{"values":[{}]},"mark":{"type":"text","text":"(g)","fontSize":24,"fontWeight":"bold","align":"center","baseline":"middle","dx":-43,"dy":-10},"encoding":{"x":{"datum":-500,"scale":{"domain":[-500,750],"nice":false,"zero":false},"axis":null},"y":{"datum":52,"scale":{"domain":[40,52],"nice":false,"zero":false},"axis":{"title":"GC (%)","titleY":97,"values":[40,42,44,46,48,50,52]}}}}
 ]},
 {"width":253,"height":194,"layer":[
  {"data":{"values":[{}]},"mark":{"type":"rule","color":"#a0a0a0","strokeWidth":1.6},"encoding":{"x":{"datum":0,"scale":{"domain":[-1000,1000],"nice":false,"zero":false},"axis":null}}},
  {"data":{"name":"j"},"mark":{"type":"errorbar","ticks":{"size":4,"color":"#333","clip":true},"rule":{"color":"#777","clip":true}},"encoding":{"x":{"field":"x","type":"quantitative","scale":{"domain":[-1000,1000],"nice":false,"zero":false},"axis":null},"y":{"field":"m","type":"quantitative","scale":{"domain":[40,52],"nice":false,"zero":false},"axis":{"title":"GC (%)","titleY":97,"values":[40,42,44,46,48,50,52]}},"yError":{"field":"e"}}},
  {"data":{"name":"j"},"mark":{"type":"tick","orient":"horizontal","size":4,"thickness":1,"color":"#222","clip":true},"encoding":{"x":{"field":"x","type":"quantitative","scale":{"domain":[-1000,1000],"nice":false,"zero":false},"axis":null},"y":{"field":"m","type":"quantitative","scale":{"domain":[40,52],"nice":false,"zero":false},"axis":{"title":"GC (%)","titleY":97,"values":[40,42,44,46,48,50,52]}}}},
  {"data":{"values":[{}]},"mark":{"type":"text","text":"(j)","fontSize":24,"fontWeight":"bold","align":"center","baseline":"middle","dx":-50,"dy":-10},"encoding":{"x":{"datum":-1000,"scale":{"domain":[-1000,1000],"nice":false,"zero":false},"axis":null},"y":{"datum":52,"scale":{"domain":[40,52],"nice":false,"zero":false},"axis":{"title":"GC (%)","titleY":97,"values":[40,42,44,46,48,50,52]}}}}
 ]},
 {"width":253,"height":195,"layer":[
  {"data":{"values":[{}]},"mark":{"type":"rule","color":"#a0a0a0","strokeWidth":1.6},"encoding":{"x":{"datum":0,"scale":{"domain":[-500,750],"nice":false,"zero":false},"axis":null}}},
  {"data":{"values":[{}]},"mark":{"type":"rule","color":"#a0a0a0","strokeWidth":1.6},"encoding":{"x":{"datum":250,"scale":{"domain":[-500,750],"nice":false,"zero":false},"axis":null}}},
  {"data":{"name":"b"},"mark":{"type":"errorbar","ticks":{"size":3,"color":"#222","clip":true},"rule":{"color":"#888","clip":true}},"encoding":{"x":{"field":"x","type":"quantitative","scale":{"domain":[-500,750],"nice":false,"zero":false},"axis":null},"y":{"field":"m","type":"quantitative","scale":{"domain":[82,100],"nice":false,"zero":false},"axis":{"title":"Mappability (%)","titleY":97,"values":[84,88,92,96,100]}},"yError":{"field":"e"}}},
  {"data":{"name":"b"},"mark":{"type":"tick","orient":"horizontal","size":3,"thickness":1,"color":"#222","clip":true},"encoding":{"x":{"field":"x","type":"quantitative","scale":{"domain":[-500,750],"nice":false,"zero":false},"axis":null},"y":{"field":"m","type":"quantitative","scale":{"domain":[82,100],"nice":false,"zero":false},"axis":{"title":"Mappability (%)","titleY":97,"values":[84,88,92,96,100]}}}},
  {"data":{"values":[{}]},"mark":{"type":"text","text":"(b)","fontSize":24,"fontWeight":"bold","align":"center","baseline":"middle","dx":-50,"dy":-10},"encoding":{"x":{"datum":-500,"scale":{"domain":[-500,750],"nice":false,"zero":false},"axis":null},"y":{"datum":100,"scale":{"domain":[82,100],"nice":false,"zero":false},"axis":{"title":"Mappability (%)","titleY":97,"values":[84,88,92,96,100]}}}}
 ]},
 {"width":253,"height":195,"layer":[
  {"data":{"values":[{}]},"mark":{"type":"rule","color":"#a0a0a0","strokeWidth":1.6},"encoding":{"x":{"datum":0,"scale":{"domain":[-1000,1000],"nice":false,"zero":false},"axis":null}}},
  {"data":{"name":"e"},"mark":{"type":"errorbar","ticks":{"size":3.5,"color":"#222","clip":true},"rule":{"color":"#888","clip":true}},"encoding":{"x":{"field":"x","type":"quantitative","scale":{"domain":[-1000,1000],"nice":false,"zero":false},"axis":null},"y":{"field":"m","type":"quantitative","scale":{"domain":[82,100],"nice":false,"zero":false},"axis":{"title":"Mappability (%)","titleY":97,"values":[84,88,92,96,100]}},"yError":{"field":"e"}}},
  {"data":{"name":"e"},"mark":{"type":"tick","orient":"horizontal","size":3.5,"thickness":1,"color":"#222","clip":true},"encoding":{"x":{"field":"x","type":"quantitative","scale":{"domain":[-1000,1000],"nice":false,"zero":false},"axis":null},"y":{"field":"m","type":"quantitative","scale":{"domain":[82,100],"nice":false,"zero":false},"axis":{"title":"Mappability (%)","titleY":97,"values":[84,88,92,96,100]}}}},
  {"data":{"values":[{}]},"mark":{"type":"text","text":"(e)","fontSize":24,"fontWeight":"bold","align":"center","baseline":"middle","dx":-44,"dy":-10},"encoding":{"x":{"datum":-1000,"scale":{"domain":[-1000,1000],"nice":false,"zero":false},"axis":null},"y":{"datum":100,"scale":{"domain":[82,100],"nice":false,"zero":false},"axis":{"title":"Mappability (%)","titleY":97,"values":[84,88,92,96,100]}}}}
 ]},
 {"width":253,"height":195,"layer":[
  {"data":{"values":[{}]},"mark":{"type":"rule","color":"#a0a0a0","strokeWidth":1.6},"encoding":{"x":{"datum":0,"scale":{"domain":[-500,750],"nice":false,"zero":false},"axis":null}}},
  {"data":{"values":[{}]},"mark":{"type":"rule","color":"#a0a0a0","strokeWidth":1.6},"encoding":{"x":{"datum":250,"scale":{"domain":[-500,750],"nice":false,"zero":false},"axis":null}}},
  {"data":{"name":"h"},"mark":{"type":"errorbar","ticks":{"size":4,"color":"#333","clip":true},"rule":{"color":"#777","clip":true}},"encoding":{"x":{"field":"x","type":"quantitative","scale":{"domain":[-500,750],"nice":false,"zero":false},"axis":null},"y":{"field":"m","type":"quantitative","scale":{"domain":[74,94],"nice":false,"zero":false},"axis":{"title":"Mappability (%)","titleY":97,"values":[76,80,84,88,92]}},"yError":{"field":"e"}}},
  {"data":{"name":"h"},"mark":{"type":"tick","orient":"horizontal","size":4,"thickness":1,"color":"#222","clip":true},"encoding":{"x":{"field":"x","type":"quantitative","scale":{"domain":[-500,750],"nice":false,"zero":false},"axis":null},"y":{"field":"m","type":"quantitative","scale":{"domain":[74,94],"nice":false,"zero":false},"axis":{"title":"Mappability (%)","titleY":97,"values":[76,80,84,88,92]}}}},
  {"data":{"values":[{}]},"mark":{"type":"text","text":"(h)","fontSize":24,"fontWeight":"bold","align":"center","baseline":"middle","dx":-43,"dy":-10},"encoding":{"x":{"datum":-500,"scale":{"domain":[-500,750],"nice":false,"zero":false},"axis":null},"y":{"datum":94,"scale":{"domain":[74,94],"nice":false,"zero":false},"axis":{"title":"Mappability (%)","titleY":97,"values":[76,80,84,88,92]}}}}
 ]},
 {"width":253,"height":195,"layer":[
  {"data":{"values":[{}]},"mark":{"type":"rule","color":"#a0a0a0","strokeWidth":1.6},"encoding":{"x":{"datum":0,"scale":{"domain":[-1000,1000],"nice":false,"zero":false},"axis":null}}},
  {"data":{"name":"k"},"mark":{"type":"errorbar","ticks":{"size":4,"color":"#333","clip":true},"rule":{"color":"#777","clip":true}},"encoding":{"x":{"field":"x","type":"quantitative","scale":{"domain":[-1000,1000],"nice":false,"zero":false},"axis":null},"y":{"field":"m","type":"quantitative","scale":{"domain":[74,94],"nice":false,"zero":false},"axis":{"title":"Mappability (%)","titleY":97,"values":[76,80,84,88,92]}},"yError":{"field":"e"}}},
  {"data":{"name":"k"},"mark":{"type":"tick","orient":"horizontal","size":4,"thickness":1,"color":"#222","clip":true},"encoding":{"x":{"field":"x","type":"quantitative","scale":{"domain":[-1000,1000],"nice":false,"zero":false},"axis":null},"y":{"field":"m","type":"quantitative","scale":{"domain":[74,94],"nice":false,"zero":false},"axis":{"title":"Mappability (%)","titleY":97,"values":[76,80,84,88,92]}}}},
  {"data":{"values":[{}]},"mark":{"type":"text","text":"(k)","fontSize":24,"fontWeight":"bold","align":"center","baseline":"middle","dx":-50,"dy":-10},"encoding":{"x":{"datum":-1000,"scale":{"domain":[-1000,1000],"nice":false,"zero":false},"axis":null},"y":{"datum":94,"scale":{"domain":[74,94],"nice":false,"zero":false},"axis":{"title":"Mappability (%)","titleY":97,"values":[76,80,84,88,92]}}}}
 ]},
 {"width":253,"height":189,"layer":[
  {"data":{"values":[{}]},"mark":{"type":"rule","color":"#a0a0a0","strokeWidth":1.6},"encoding":{"x":{"datum":0,"scale":{"domain":[-500,750],"nice":false,"zero":false},"axis":null}}},
  {"data":{"values":[{}]},"mark":{"type":"rule","color":"#a0a0a0","strokeWidth":1.6},"encoding":{"x":{"datum":250,"scale":{"domain":[-500,750],"nice":false,"zero":false},"axis":null}}},
  {"data":{"name":"c"},"mark":{"type":"errorbar","ticks":{"size":3,"color":"#222","clip":true},"rule":{"color":"#888","clip":true}},"encoding":{"x":{"field":"x","type":"quantitative","scale":{"domain":[-500,750],"nice":false,"zero":false},"axis":null},"y":{"field":"m","type":"quantitative","scale":{"domain":[10,60],"nice":false,"zero":false},"axis":{"title":"Read count","titleY":94,"values":[10,20,30,40,50,60]}},"yError":{"field":"e"}}},
  {"data":{"name":"c"},"mark":{"type":"tick","orient":"horizontal","size":3,"thickness":1,"color":"#222","clip":true},"encoding":{"x":{"field":"x","type":"quantitative","scale":{"domain":[-500,750],"nice":false,"zero":false},"axis":null},"y":{"field":"m","type":"quantitative","scale":{"domain":[10,60],"nice":false,"zero":false},"axis":{"title":"Read count","titleY":94,"values":[10,20,30,40,50,60]}}}},
  {"data":{"values":[{}]},"mark":{"type":"text","text":"(c)","fontSize":24,"fontWeight":"bold","align":"center","baseline":"middle","dx":-50,"dy":-5},"encoding":{"x":{"datum":-500,"scale":{"domain":[-500,750],"nice":false,"zero":false},"axis":null},"y":{"datum":60,"scale":{"domain":[10,60],"nice":false,"zero":false},"axis":{"title":"Read count","titleY":94,"values":[10,20,30,40,50,60]}}}}
 ]},
 {"width":253,"height":189,"layer":[
  {"data":{"values":[{}]},"mark":{"type":"rule","color":"#a0a0a0","strokeWidth":1.6},"encoding":{"x":{"datum":0,"scale":{"domain":[-1000,1000],"nice":false,"zero":false},"axis":null}}},
  {"data":{"name":"f"},"mark":{"type":"errorbar","ticks":{"size":3.5,"color":"#222","clip":true},"rule":{"color":"#888","clip":true}},"encoding":{"x":{"field":"x","type":"quantitative","scale":{"domain":[-1000,1000],"nice":false,"zero":false},"axis":null},"y":{"field":"m","type":"quantitative","scale":{"domain":[26,40],"nice":false,"zero":false},"axis":{"title":"Read count","titleY":94,"values":[26,28,30,32,34,36,38,40]}},"yError":{"field":"e"}}},
  {"data":{"name":"f"},"mark":{"type":"tick","orient":"horizontal","size":3.5,"thickness":1,"color":"#222","clip":true},"encoding":{"x":{"field":"x","type":"quantitative","scale":{"domain":[-1000,1000],"nice":false,"zero":false},"axis":null},"y":{"field":"m","type":"quantitative","scale":{"domain":[26,40],"nice":false,"zero":false},"axis":{"title":"Read count","titleY":94,"values":[26,28,30,32,34,36,38,40]}}}},
  {"data":{"values":[{}]},"mark":{"type":"text","text":"(f)","fontSize":24,"fontWeight":"bold","align":"center","baseline":"middle","dx":-44,"dy":-5},"encoding":{"x":{"datum":-1000,"scale":{"domain":[-1000,1000],"nice":false,"zero":false},"axis":null},"y":{"datum":40,"scale":{"domain":[26,40],"nice":false,"zero":false},"axis":{"title":"Read count","titleY":94,"values":[26,28,30,32,34,36,38,40]}}}}
 ]},
 {"width":253,"height":189,"layer":[
  {"data":{"values":[{}]},"mark":{"type":"rule","color":"#a0a0a0","strokeWidth":1.6},"encoding":{"x":{"datum":0,"scale":{"domain":[-500,750],"nice":false,"zero":false},"axis":null}}},
  {"data":{"values":[{}]},"mark":{"type":"rule","color":"#a0a0a0","strokeWidth":1.6},"encoding":{"x":{"datum":250,"scale":{"domain":[-500,750],"nice":false,"zero":false},"axis":null}}},
  {"data":{"name":"i"},"mark":{"type":"errorbar","ticks":{"size":4,"color":"#333","clip":true},"rule":{"color":"#777","clip":true}},"encoding":{"x":{"field":"x","type":"quantitative","scale":{"domain":[-500,750],"nice":false,"zero":false},"axis":null},"y":{"field":"m","type":"quantitative","scale":{"domain":[0.3,1.2],"nice":false,"zero":false},"axis":{"title":"Read count","titleY":94,"values":[0.4,0.6,0.8,1,1.2],"format":"~g"}},"yError":{"field":"e"}}},
  {"data":{"name":"i"},"mark":{"type":"tick","orient":"horizontal","size":4,"thickness":1,"color":"#222","clip":true},"encoding":{"x":{"field":"x","type":"quantitative","scale":{"domain":[-500,750],"nice":false,"zero":false},"axis":null},"y":{"field":"m","type":"quantitative","scale":{"domain":[0.3,1.2],"nice":false,"zero":false},"axis":{"title":"Read count","titleY":94,"values":[0.4,0.6,0.8,1,1.2],"format":"~g"}}}},
  {"data":{"values":[{}]},"mark":{"type":"text","text":"(i)","fontSize":24,"fontWeight":"bold","align":"center","baseline":"middle","dx":-43,"dy":-5},"encoding":{"x":{"datum":-500,"scale":{"domain":[-500,750],"nice":false,"zero":false},"axis":null},"y":{"datum":1.2,"scale":{"domain":[0.3,1.2],"nice":false,"zero":false},"axis":{"title":"Read count","titleY":94,"values":[0.4,0.6,0.8,1,1.2],"format":"~g"}}}}
 ]},
 {"width":253,"height":189,"layer":[
  {"data":{"values":[{}]},"mark":{"type":"rule","color":"#a0a0a0","strokeWidth":1.6},"encoding":{"x":{"datum":0,"scale":{"domain":[-1000,1000],"nice":false,"zero":false},"axis":null}}},
  {"data":{"name":"l"},"mark":{"type":"errorbar","ticks":{"size":4,"color":"#333","clip":true},"rule":{"color":"#777","clip":true}},"encoding":{"x":{"field":"x","type":"quantitative","scale":{"domain":[-1000,1000],"nice":false,"zero":false},"axis":null},"y":{"field":"m","type":"quantitative","scale":{"domain":[0.4,1.8],"nice":false,"zero":false},"axis":{"title":"Read count","titleY":94,"values":[0.4,0.6,0.8,1,1.2,1.4,1.6,1.8],"format":"~g"}},"yError":{"field":"e"}}},
  {"data":{"name":"l"},"mark":{"type":"tick","orient":"horizontal","size":4,"thickness":1,"color":"#222","clip":true},"encoding":{"x":{"field":"x","type":"quantitative","scale":{"domain":[-1000,1000],"nice":false,"zero":false},"axis":null},"y":{"field":"m","type":"quantitative","scale":{"domain":[0.4,1.8],"nice":false,"zero":false},"axis":{"title":"Read count","titleY":94,"values":[0.4,0.6,0.8,1,1.2,1.4,1.6,1.8],"format":"~g"}}}},
  {"data":{"values":[{}]},"mark":{"type":"text","text":"(l)","fontSize":24,"fontWeight":"bold","align":"center","baseline":"middle","dx":-50,"dy":-5},"encoding":{"x":{"datum":-1000,"scale":{"domain":[-1000,1000],"nice":false,"zero":false},"axis":null},"y":{"datum":1.8,"scale":{"domain":[0.4,1.8],"nice":false,"zero":false},"axis":{"title":"Read count","titleY":94,"values":[0.4,0.6,0.8,1,1.2,1.4,1.6,1.8],"format":"~g"}}}}
 ]}
]
}
